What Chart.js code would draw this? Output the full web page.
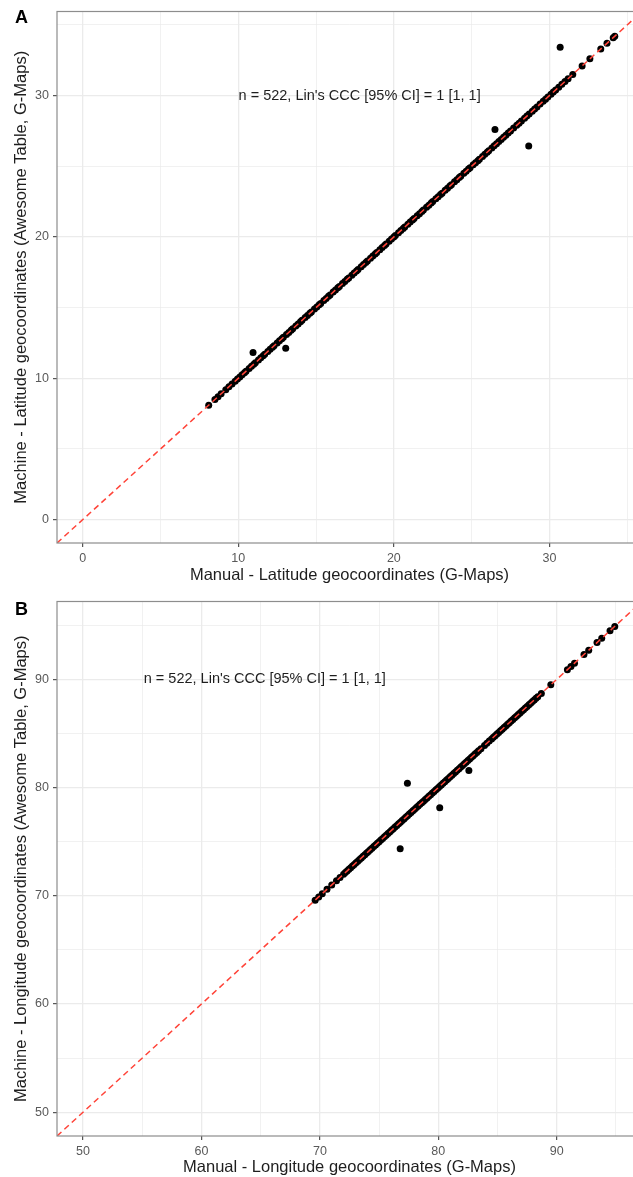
<!DOCTYPE html>
<html>
<head>
<meta charset="utf-8">
<script src="https://cdn.jsdelivr.net/npm/chart.js@4.4.1/dist/chart.umd.min.js"></script>
<style>
  html, body { margin: 0; padding: 0; background: #fff; overflow: hidden; }
  body { width: 633px; height: 1177px; position: relative; }
  canvas { position: absolute; left: 0; }
  .tag { position: absolute; left: 15px; font: bold 18px "Liberation Sans", Arial, sans-serif; line-height: 18px; color: #000; }
</style>
</head>
<body>
<canvas id="latChart" width="646" height="590" style="top:0"></canvas>
<canvas id="lonChart" width="646" height="587" style="top:590px"></canvas>
<div class="tag" style="top:8px">A</div>
<div class="tag" style="top:600px">B</div>
<script>
// latitude: places where manual and Awesome Table coordinates agree
const latMatched = [
  8.1, 8.5, 8.7, 8.9, 9.2, 9.4, 9.6, 9.8, 9.95, 10.1, 10.25, 10.4, 10.5, 10.7, 10.85,
  11.0, 11.1, 11.3, 11.45, 11.6, 11.7, 11.9, 12.05, 12.2, 12.3, 12.5, 12.65, 12.8,
  12.9, 13.1, 13.25, 13.4, 13.5, 13.7, 13.85, 14.0, 14.1, 14.3, 14.45, 14.6, 14.7,
  14.9, 15.05, 15.2, 15.3, 15.5, 15.65, 15.8, 15.9, 16.1, 16.25, 16.4, 16.5, 16.7,
  16.85, 17.0, 17.1, 17.3, 17.45, 17.6, 17.7, 17.9, 18.05, 18.2, 18.3, 18.5, 18.65,
  18.8, 18.9, 19.1, 19.25, 19.4, 19.5, 19.7, 19.85, 20.0, 20.1, 20.3, 20.45, 20.6,
  20.7, 20.9, 21.05, 21.2, 21.3, 21.5, 21.65, 21.8, 21.9, 22.1, 22.25, 22.4, 22.5,
  22.7, 22.85, 23.0, 23.1, 23.3, 23.45, 23.6, 23.7, 23.9, 24.05, 24.2, 24.3, 24.5,
  24.65, 24.8, 24.9, 25.1, 25.25, 25.4, 25.5, 25.7, 25.85, 26.0, 26.1, 26.3, 26.45,
  26.6, 26.75, 26.9, 27.05, 27.2, 27.35, 27.5, 27.7, 27.9, 28.05, 28.2, 28.4, 28.55,
  28.7, 28.9, 29.05, 29.2, 29.4, 29.6, 29.75, 29.9, 30.1, 30.25, 30.4, 30.6, 30.8,
  31.0, 31.2, 31.5, 32.1, 32.6, 33.3, 33.7, 34.1, 34.2
];
// the few that disagree
const latMissManual = [10.95, 13.05, 26.5, 28.67, 30.69];
const latMissMachine = [11.82, 12.13, 27.6, 26.44, 33.42];

// longitude, same split
const lonMatched = [
  69.6, 69.9, 70.2, 70.6, 71.0, 71.4, 71.7, 72.0, 72.15, 72.3, 72.45, 72.6, 72.75,
  72.9, 73.05, 73.2, 73.35, 73.5, 73.65, 73.8, 73.95, 74.1, 74.25, 74.4, 74.55, 74.7,
  74.85, 75.0, 75.15, 75.3, 75.45, 75.6, 75.75, 75.9, 76.05, 76.2, 76.35, 76.5, 76.65,
  76.8, 76.95, 77.1, 77.25, 77.4, 77.55, 77.7, 77.85, 78.0, 78.15, 78.3, 78.45, 78.6,
  78.75, 78.9, 79.05, 79.2, 79.35, 79.5, 79.65, 79.8, 79.95, 80.1, 80.25, 80.4, 80.55,
  80.7, 80.85, 81.0, 81.15, 81.3, 81.45, 81.6, 81.75, 81.9, 82.05, 82.2, 82.35, 82.5,
  82.65, 82.8, 82.95, 83.1, 83.25, 83.4, 83.6, 83.9, 84.1, 84.3, 84.5, 84.65, 84.8,
  84.95, 85.1, 85.25, 85.4, 85.55, 85.7, 85.85, 86.0, 86.15, 86.3, 86.45, 86.6, 86.75,
  86.9, 87.05, 87.2, 87.35, 87.5, 87.65, 87.8, 87.95, 88.1, 88.25, 88.4, 88.7, 89.5,
  90.9, 91.2, 91.5, 92.3, 92.7, 93.4, 93.8, 94.5, 94.9
];
const lonMissManual = [77.39, 80.12, 82.58, 76.78];
const lonMissMachine = [80.41, 78.14, 81.58, 74.36];

// axis limits (same on x and y) and grid positions
const latRange = [-1.65, 35.95];
const lonRange = [47.8, 97.2];
const latTicks = [0, 5, 10, 15, 20, 25, 30, 35];
const lonTicks = [50, 55, 60, 65, 70, 75, 80, 85, 90, 95];

const cccText = "n = 522, Lin's CCC [95% CI] = 1 [1, 1]";
const latNote = [17.8, 30];
const lonNote = [65.35, 90];

const FONT = '"Liberation Sans", Arial, sans-serif';
Chart.defaults.font.family = FONT;

// panel border + the CCC label, drawn over the points
const frame = {
  id: 'frame',
  afterDatasetsDraw(chart, args, opts) {
    const { ctx, chartArea: a, scales } = chart;
    ctx.save();
    ctx.strokeStyle = '#8d8d8d';
    ctx.lineWidth = 1.2;
    ctx.strokeRect(a.left, a.top, a.right - a.left, a.bottom - a.top);
    ctx.fillStyle = '#1e1e1e';
    ctx.font = '14.5px ' + FONT;
    ctx.textAlign = 'center';
    ctx.textBaseline = 'middle';
    ctx.fillText(opts.text, scales.x.getPixelForValue(opts.at[0]), scales.y.getPixelForValue(opts.at[1]));
    ctx.restore();
  }
};

function buildPanel(id, cfg) {
  const [lo, hi] = cfg.range;
  const isMajor = v => v % 10 === 0;
  const points = cfg.matched.map(v => ({ x: v, y: v }))
    .concat(cfg.missManual.map((v, i) => ({ x: v, y: cfg.missMachine[i] })));

  const axis = (title, extra) => Object.assign({
    type: 'linear',
    min: lo,
    max: hi,
    afterBuildTicks: s => { s.ticks = cfg.ticks.map(v => ({ value: v })); },
    border: { display: false },
    grid: {
      color: '#ebebeb',
      lineWidth: c => isMajor(c.tick.value) ? 1.3 : 0.7,
      tickColor: c => isMajor(c.tick.value) ? '#444' : 'rgba(0,0,0,0)',
      tickWidth: 1.1,
      tickLength: 4
    },
    ticks: {
      autoSkip: false,
      maxRotation: 0,
      padding: 4,
      color: '#595959',
      font: { size: 12.5 },
      callback: v => isMajor(v) ? v : ''
    },
    title: { display: true, text: title, color: '#1e1e1e', font: { size: 16.5 } }
  }, extra);

  const x = axis(cfg.xTitle, { afterFit: s => { s.height = cfg.xAxisHeight; } });
  x.title.padding = { top: 0, bottom: cfg.xTitlePad };
  const y = axis(cfg.yTitle, { afterFit: s => { s.width = 57; } });
  y.title.padding = { top: 12, bottom: 0 };

  return new Chart(document.getElementById(id), {
    type: 'scatter',
    data: {
      datasets: [
        {
          // 1:1 reference line
          type: 'line',
          data: [{ x: lo, y: lo }, { x: hi, y: hi }],
          borderColor: '#ff4338',
          borderWidth: 1.5,
          borderDash: [6, 4],
          pointRadius: 0,
          order: 0
        },
        {
          data: points,
          backgroundColor: '#000',
          borderWidth: 0,
          pointRadius: 3.5,
          order: 1
        }
      ]
    },
    options: {
      responsive: false,
      animation: false,
      events: [],
      layout: { padding: { top: cfg.top, right: 1, left: 0, bottom: 0 } },
      scales: { x, y },
      plugins: {
        legend: { display: false },
        tooltip: { enabled: false },
        frame: { text: cccText, at: cfg.note }
      }
    },
    plugins: [frame]
  });
}

buildPanel('latChart', {
  matched: latMatched,
  missManual: latMissManual,
  missMachine: latMissMachine,
  range: latRange,
  ticks: latTicks,
  note: latNote,
  top: 8,
  xAxisHeight: 47,
  xTitlePad: 5,
  xTitle: 'Manual - Latitude geocoordinates (G-Maps)',
  yTitle: 'Machine - Latitude geocoordinates (Awesome Table, G-Maps)'
});

buildPanel('lonChart', {
  matched: lonMatched,
  missManual: lonMissManual,
  missMachine: lonMissMachine,
  range: lonRange,
  ticks: lonTicks,
  note: lonNote,
  top: 10,
  xAxisHeight: 41,
  xTitlePad: 0,
  xTitle: 'Manual - Longitude geocoordinates (G-Maps)',
  yTitle: 'Machine - Longitude geocoordinates (Awesome Table, G-Maps)'
});
</script>
</body>
</html>
